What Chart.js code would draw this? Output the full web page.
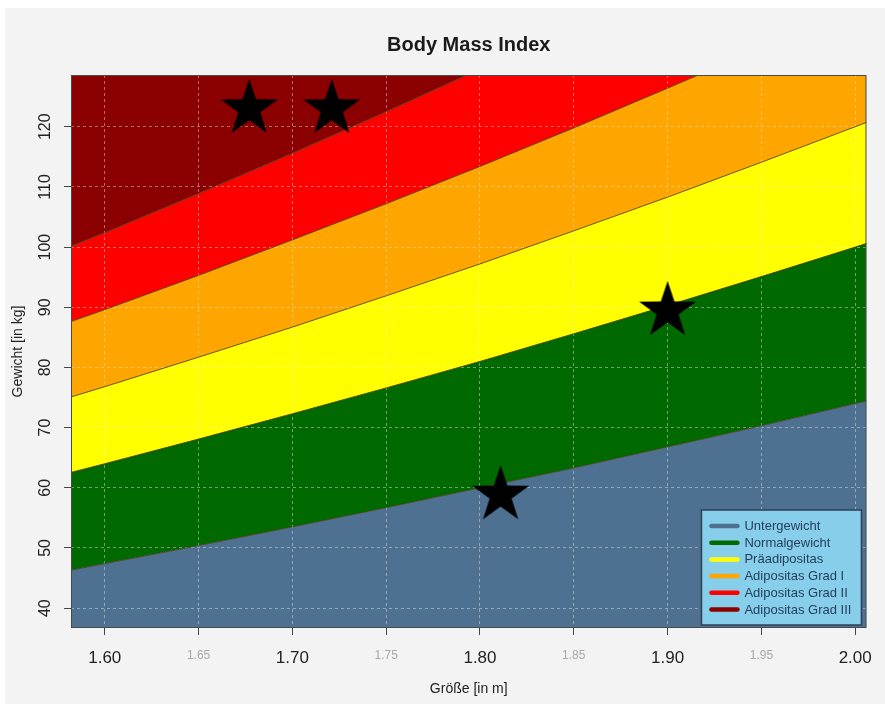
<!DOCTYPE html>
<html>
<head>
<meta charset="utf-8">
<script src="https://cdn.jsdelivr.net/npm/chart.js@4/dist/chart.umd.min.js"></script>
<style>
html,body{margin:0;padding:0;background:#fff;}
#wrap{position:relative;width:885px;height:704px;background:#fff;}
#panel{position:absolute;left:5px;top:8px;right:0;bottom:0;background:#f3f3f3;}
#c{position:absolute;left:0;top:0;}
</style>
</head>
<body>
<div id="wrap"><div id="panel"></div><canvas id="c" width="885" height="704"></canvas></div>
<script>
// ---- data ----
const heights = [1.58, 1.60, 1.65, 1.70, 1.75, 1.80, 1.85, 1.90, 1.95, 2.00, 2.01];
const limitUnter   = [46.2, 47.4, 50.4, 53.5, 56.7, 60.0, 63.3, 66.8, 70.3, 74.0, 74.7];   // BMI 18.5
const limitNormal  = [62.4, 64.0, 68.1, 72.3, 76.6, 81.0, 85.6, 90.3, 95.1, 100.0, 101.0]; // BMI 25
const limitPrae    = [74.9, 76.8, 81.7, 86.7, 91.9, 97.2, 102.7, 108.3, 114.1, 120.0, 121.2]; // BMI 30
const limitGrad1   = [87.4, 89.6, 95.3, 101.2, 107.2, 113.4, 119.8, 126.4, 133.1, 140.0, 141.4]; // BMI 35
const limitGrad2   = [99.9, 102.4, 108.9, 115.6, 122.5, 129.6, 136.9, 144.4, 152.1, 160.0, 161.6]; // BMI 40
const starX = [1.677, 1.721, 1.900, 1.811];
const starY = [123.0, 123.0, 89.4, 58.8];
const categories = ['Untergewicht', 'Normalgewicht', 'Präadipositas', 'Adipositas Grad I', 'Adipositas Grad II', 'Adipositas Grad III'];
const xTicks = [1.60, 1.65, 1.70, 1.75, 1.80, 1.85, 1.90, 1.95, 2.00];
const xTickLabels = ['1.60', '1.65', '1.70', '1.75', '1.80', '1.85', '1.90', '1.95', '2.00'];
const yTicks = [40, 50, 60, 70, 80, 90, 100, 110, 120];
const yTickLabels = ['40', '50', '60', '70', '80', '90', '100', '110', '120'];

// ---- styles ----
const bandColors = ['#4e7191', '#006a00', '#ffff00', '#ffa500', '#ff0000', '#8b0000'];
const edgeColor = 'rgba(70,60,20,0.85)';
const FONT = "'Liberation Sans', Arial, sans-serif";

const pts = arr => heights.map((h, i) => ({x: h, y: arr[i]}));

// filled star marker
const starImg = document.createElement('canvas');
starImg.width = 64; starImg.height = 64;
(function(){
  const g = starImg.getContext('2d');
  const cx = 32, cy = 32, R = 30, r = 11.6;
  g.beginPath();
  for (let i = 0; i < 10; i++) {
    const rad = i % 2 === 0 ? R : r;
    const a = -Math.PI / 2 + i * Math.PI / 5;
    const px = cx + rad * Math.cos(a), py = cy + rad * Math.sin(a);
    i === 0 ? g.moveTo(px, py) : g.lineTo(px, py);
  }
  g.closePath();
  g.fillStyle = '#000';
  g.fill();
})();

const boxLegendPlugin = {
  id: 'boxLegend',
  afterDraw(chart) {
    const ctx = chart.ctx, a = chart.chartArea;
    ctx.save();
    // plot frame
    ctx.strokeStyle = '#4a4a4a';
    ctx.lineWidth = 1;
    ctx.strokeRect(a.left + 0.5, a.top + 0.5, a.right - a.left - 1, a.bottom - a.top - 1);
    // legend
    const w = 160, h = 115;
    const x0 = a.right - w - 5, y0 = a.bottom - h - 3;
    ctx.fillStyle = '#87ceeb';
    ctx.fillRect(x0, y0, w, h);
    ctx.strokeStyle = '#2f3f55';
    ctx.lineWidth = 1.5;
    ctx.strokeRect(x0, y0, w, h);
    ctx.font = "13px " + FONT;
    ctx.textBaseline = 'middle';
    ctx.textAlign = 'left';
    const ds = chart.data.datasets.filter(d => d.type === 'line');
    ds.forEach((d, i) => {
      const yy = y0 + 16 + i * 16.7;
      ctx.strokeStyle = d.legendColor;
      ctx.lineWidth = 4.5;
      ctx.lineCap = 'round';
      ctx.beginPath();
      ctx.moveTo(x0 + 10, yy);
      ctx.lineTo(x0 + 36, yy);
      ctx.stroke();
      ctx.fillStyle = '#24405e';
      ctx.fillText(d.label, x0 + 43, yy + 0.5);
    });
    ctx.restore();
  }
};

const lineDs = (label, arr, fill, color) => ({
  type: 'line',
  label: label,
  data: pts(arr),
  fill: fill,
  backgroundColor: color,
  legendColor: color,
  borderColor: edgeColor,
  borderWidth: 1,
  pointRadius: 0,
  pointHoverRadius: 0,
  tension: 0
});

const datasets = [
  {
    type: 'scatter',
    label: 'Personen',
    data: starX.map((x, i) => ({x: x, y: starY[i]})),
    pointStyle: starImg,
    pointRadius: 30,
    pointHoverRadius: 30,
    backgroundColor: '#000',
    borderColor: '#000'
  },
  lineDs(categories[0], limitUnter, 'start', bandColors[0]),
  lineDs(categories[1], limitNormal, '-1', bandColors[1]),
  lineDs(categories[2], limitPrae, '-1', bandColors[2]),
  lineDs(categories[3], limitGrad1, '-1', bandColors[3]),
  lineDs(categories[4], limitGrad2, '-1', bandColors[4]),
  Object.assign(lineDs(categories[5], limitGrad2, 'end', bandColors[5]), {borderWidth: 0})
];

const gridOpts = {color: 'rgba(235,235,235,0.45)', lineWidth: 1, tickColor: '#444', tickLength: 7, drawTicks: true};

new Chart(document.getElementById('c'), {
  type: 'line',
  data: {datasets: datasets},
  options: {
    responsive: false,
    animation: false,
    events: [],
    layout: {autoPadding: false, padding: {left: 0, right: 18, top: 8, bottom: 0}},
    plugins: {
      legend: {display: false},
      tooltip: {enabled: false},
      title: {
        display: true,
        fullSize: false,
        text: 'Body Mass Index',
        color: '#1a1a1a',
        font: {family: FONT, size: 20, weight: 'bold'},
        padding: {top: 25, bottom: 18}
      },
      filler: {propagate: false, drawTime: 'beforeDraw'}
    },
    scales: {
      x: {
        type: 'linear',
        min: 1.582,
        max: 2.006,
        afterBuildTicks: s => { s.ticks = xTicks.map(v => ({value: v})); },
        afterFit: s => { s.height = 76; },
        ticks: {
          callback: (v, i) => xTickLabels[i],
          color: c => (c.index % 2 === 0 ? '#222' : '#a8a8a8'),
          font: c => ({family: FONT, size: c.index % 2 === 0 ? 17 : 12}),
          padding: 13,
          maxRotation: 0,
          minRotation: 0,
          autoSkip: false
        },
        grid: gridOpts,
        border: {display: false, dash: [3, 3]},
        title: {
          display: true,
          text: 'Größe [in m]',
          color: '#222',
          font: {family: FONT, size: 14},
          padding: {top: 4, bottom: 6}
        }
      },
      y: {
        type: 'linear',
        min: 36.7,
        max: 128.6,
        afterBuildTicks: s => { s.ticks = yTicks.map(v => ({value: v})); },
        afterFit: s => { s.width = 71; },
        ticks: {
          callback: (v, i) => yTickLabels[i],
          color: '#222',
          font: {family: FONT, size: 16},
          padding: 5,
          minRotation: 90,
          maxRotation: 90,
          crossAlign: 'center',
          autoSkip: false
        },
        grid: gridOpts,
        border: {display: false, dash: [3, 3]},
        title: {
          display: true,
          text: 'Gewicht [in kg]',
          color: '#222',
          font: {family: FONT, size: 14},
          padding: {top: 10, bottom: 4}
        }
      }
    }
  },
  plugins: [boxLegendPlugin]
});
</script>
</body>
</html>
